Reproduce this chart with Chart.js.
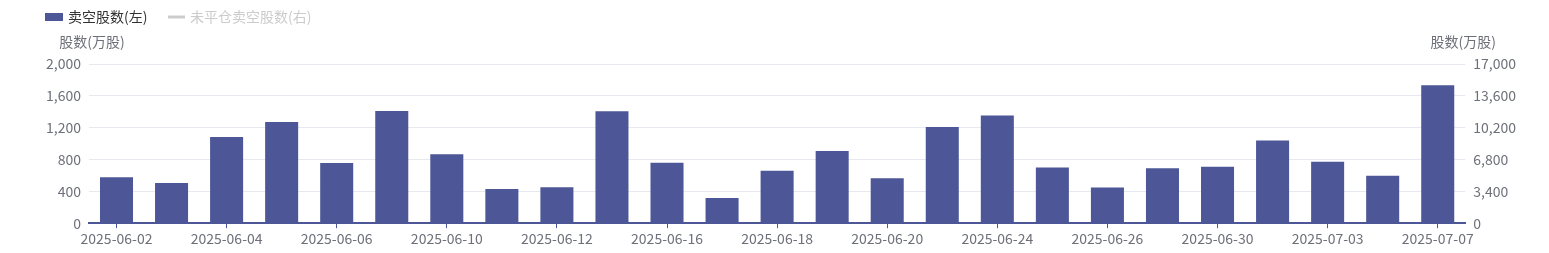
<!DOCTYPE html>
<html>
<head>
  <meta charset="utf-8">
  <title>卖空股数</title>
  <script src="https://cdn.jsdelivr.net/npm/chart.js"></script>
  <style>
    html, body { margin: 0; padding: 0; background: #fff; }
    #wrap { position: relative; width: 1549px; height: 253px; }
  </style>
</head>
<body>
  <div id="wrap"><canvas id="shortChart" width="1549" height="253"></canvas></div>

  <script>
    // 日期（交易日）
    const dates = [
      "2025-06-02", "2025-06-03", "2025-06-04", "2025-06-05", "2025-06-06",
      "2025-06-09", "2025-06-10", "2025-06-11", "2025-06-12", "2025-06-13",
      "2025-06-16", "2025-06-17", "2025-06-18", "2025-06-19", "2025-06-20",
      "2025-06-23", "2025-06-24", "2025-06-25", "2025-06-26", "2025-06-27",
      "2025-06-30", "2025-07-02", "2025-07-03", "2025-07-04", "2025-07-07"
    ];

    // 卖空股数（万股，左轴）
    const shortVolume = [
      578, 506, 1084, 1270, 757, 1409, 865, 430, 451, 1405,
      760, 316, 658, 906, 565, 1210, 1354, 700, 447, 691,
      709, 1038, 772, 595, 1734
    ];

    // 未平仓卖空股数（万股，右轴）— 图中已隐藏
    const openShort = [];

    const leftTicks = [0, 400, 800, 1200, 1600, 2000];
    const rightTicks = [0, 3400, 6800, 10200, 13600, 17000];

    const FONT = '"Noto Sans CJK SC", "Noto Sans", sans-serif';
    const BAR = '#4d5797';
    const AXIS_TXT = '#6e7079';

    // 轴标题 + 图例
    const decor = {
      id: 'decor',
      afterDraw(chart) {
        const { ctx, chartArea } = chart;
        ctx.save();
        ctx.font = '14px ' + FONT;
        ctx.textBaseline = 'middle';

        // legend
        ctx.fillStyle = BAR;
        ctx.fillRect(45, 13, 18, 8);
        ctx.fillStyle = '#333';
        ctx.textAlign = 'left';
        ctx.fillText('卖空股数(左)', 68, 17);
        ctx.strokeStyle = '#ccc';
        ctx.lineWidth = 3;
        ctx.beginPath();
        ctx.moveTo(168, 17);
        ctx.lineTo(185, 17);
        ctx.stroke();
        ctx.fillStyle = '#ccc';
        ctx.fillText('未平仓卖空股数(右)', 190, 17);

        // axis titles
        ctx.fillStyle = AXIS_TXT;
        ctx.textAlign = 'center';
        ctx.fillText('股数(万股)', chartArea.left + 3, chartArea.top - 22);
        ctx.fillText('股数(万股)', chartArea.right - 2, chartArea.top - 22);
        ctx.restore();
      }
    };

    new Chart(document.getElementById('shortChart'), {
      type: 'bar',
      data: {
        labels: dates,
        datasets: [
          {
            label: '卖空股数(左)',
            data: shortVolume,
            backgroundColor: BAR,
            borderWidth: 0,
            categoryPercentage: 1,
            barPercentage: 0.6,
            yAxisID: 'y'
          },
          {
            type: 'line',
            label: '未平仓卖空股数(右)',
            data: openShort,
            borderColor: '#ccc',
            hidden: true,
            yAxisID: 'y1'
          }
        ]
      },
      options: {
        responsive: false,
        animation: false,
        layout: { padding: { left: 38, right: 25, top: 64, bottom: 4 } },
        plugins: { legend: { display: false }, tooltip: { enabled: false } },
        scales: {
          x: {
            offset: true,
            grid: {
              offset: false,
              drawOnChartArea: false,
              drawTicks: true,
              tickLength: 5,
              color: BAR
            },
            border: { display: true, color: BAR, width: 2 },
            ticks: {
              autoSkip: false,
              maxRotation: 0,
              padding: 2,
              color: AXIS_TXT,
              font: { size: 14, family: FONT },
              callback: (v, i) => (i % 2 === 0 ? dates[i] : null)
            }
          },
          y: {
            position: 'left',
            min: 0,
            max: 2000,
            afterBuildTicks: (axis) => { axis.ticks = leftTicks.map(v => ({ value: v })); },
            grid: { color: '#e6e9f0', drawTicks: false },
            border: { display: false },
            ticks: {
              padding: 8,
              color: AXIS_TXT,
              font: { size: 14, family: FONT },
              callback: (v) => v.toLocaleString('en-US')
            }
          },
          y1: {
            position: 'right',
            display: true,
            min: 0,
            max: 17000,
            afterBuildTicks: (axis) => { axis.ticks = rightTicks.map(v => ({ value: v })); },
            grid: { drawOnChartArea: false, drawTicks: false },
            border: { display: false },
            ticks: {
              padding: 8,
              color: AXIS_TXT,
              font: { size: 14, family: FONT },
              callback: (v) => v.toLocaleString('en-US')
            }
          }
        }
      },
      plugins: [decor]
    });
  </script>
</body>
</html>
